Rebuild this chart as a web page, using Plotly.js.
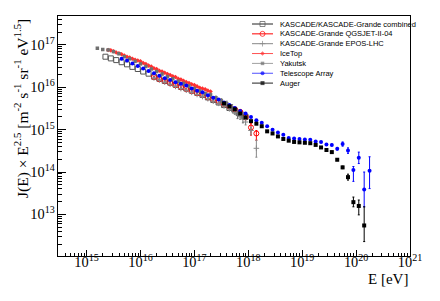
<!DOCTYPE html>
<html>
<head>
<meta charset="utf-8">
<script src="https://cdn.plot.ly/plotly-3.0.1.min.js"></script>
<style>html,body{margin:0;padding:0;background:#fff}#chart{width:440px;height:301px}</style>
</head>
<body>
<div id="chart"></div>
<script>
// ---- data (log10 E [eV], log10 J*E^2.5) ----
const kascadeLogE = [15.35,15.45,15.55,15.65,15.75,15.85,15.95,16.05,16.15,16.25,16.35,16.45,16.55,16.65,16.75,16.85,16.95,17.05,17.15,17.25,17.35,17.45,17.55,17.65,17.75,17.85,17.95];
const kascadeLogJ = [16.72,16.68,16.64,16.59,16.54,16.48,16.43,16.37,16.32,16.25,16.20,16.15,16.11,16.06,16.01,15.97,15.92,15.87,15.82,15.76,15.70,15.64,15.58,15.51,15.45,15.38,15.30];

const qgsLogE = [16.25,16.35,16.45,16.55,16.65,16.75,16.85,16.95,17.05,17.15,17.25,17.35,17.45,17.55,17.65,17.75,17.85,17.95,18.05,18.15];
const qgsLogJ = [16.24,16.19,16.15,16.10,16.05,16.00,15.96,15.91,15.86,15.82,15.76,15.71,15.66,15.60,15.54,15.48,15.42,15.30,15.05,14.91];
const qgsErrUp = [0.01,0.01,0.01,0.01,0.01,0.01,0.01,0.01,0.01,0.01,0.02,0.02,0.02,0.03,0.03,0.04,0.05,0.06,0.09,0.07];
const qgsErrDn = [0.01,0.01,0.01,0.01,0.01,0.01,0.01,0.01,0.01,0.01,0.02,0.02,0.02,0.03,0.03,0.04,0.05,0.07,0.18,0.16];

const eposLogE = [16.25,16.35,16.45,16.55,16.65,16.75,16.85,16.95,17.05,17.15,17.25,17.35,17.45,17.55,17.65,17.75,17.85,17.95,18.05,18.15];
const eposLogJ = [16.22,16.17,16.12,16.07,16.02,15.97,15.93,15.88,15.83,15.78,15.73,15.67,15.62,15.56,15.49,15.41,15.30,15.18,14.98,14.56];
const eposErrUp = [0.01,0.01,0.01,0.01,0.01,0.01,0.01,0.01,0.01,0.02,0.02,0.02,0.03,0.03,0.04,0.05,0.06,0.06,0.08,0.19];
const eposErrDn = [0.01,0.01,0.01,0.01,0.01,0.01,0.01,0.01,0.01,0.02,0.02,0.02,0.03,0.03,0.04,0.05,0.06,0.07,0.10,0.21];

const icetopLogE = [15.40,15.45,15.50,15.55,15.60,15.65,15.70,15.75,15.80,15.85,15.90,15.95,16.00,16.05,16.10,16.15,16.20,16.25,16.30,16.35,16.40,16.45,16.50,16.55,16.60,16.65,16.70,16.75,16.80,16.85,16.90,16.95,17.00,17.05,17.10,17.15,17.20,17.25,17.30];
const icetopLogJ = [16.88,16.87,16.85,16.82,16.80,16.78,16.75,16.72,16.70,16.67,16.65,16.63,16.61,16.57,16.55,16.51,16.49,16.45,16.43,16.39,16.37,16.34,16.31,16.29,16.26,16.24,16.20,16.18,16.15,16.12,16.10,16.07,16.05,16.02,15.99,15.97,15.95,15.92,15.90];

const yakutskLogE = [15.2,15.3,15.4,15.5,15.6,15.7,15.8,15.9,16.0,16.1,16.2,16.3,16.4,16.5,16.6,16.7,16.8,16.9,17.0,17.1,17.2,17.3,17.4,17.5,17.6,17.7,17.8,17.9];
const yakutskLogJ = [16.92,16.89,16.88,16.84,16.79,16.72,16.67,16.61,16.55,16.49,16.43,16.37,16.31,16.25,16.20,16.14,16.09,16.03,15.97,15.91,15.85,15.82,15.75,15.68,15.61,15.51,15.36,15.28];
const yakutskErr  = [0.01,0.01,0.01,0.01,0.01,0.01,0.01,0.01,0.01,0.01,0.01,0.01,0.01,0.01,0.01,0.01,0.02,0.02,0.02,0.03,0.03,0.04,0.04,0.05,0.06,0.08,0.10,0.12];

const taLogE = [15.65,15.75,15.85,15.95,16.05,16.15,16.25,16.35,16.45,16.55,16.65,16.75,16.85,16.95,17.05,17.15,17.25,17.35,17.45,17.55,17.65,17.75,17.85,17.95,18.05,18.15,18.25,18.35,18.45,18.55,18.65,18.75,18.85,18.95,19.05,19.15,19.25,19.35,19.45,19.55,19.65,19.75,19.85,19.95,20.05,20.15,20.25];
const taLogJ = [16.67,16.63,16.56,16.50,16.44,16.38,16.33,16.27,16.21,16.17,16.12,16.08,16.04,15.97,15.92,15.88,15.81,15.75,15.71,15.64,15.58,15.51,15.44,15.38,15.30,15.22,15.16,15.08,15.00,14.93,14.88,14.80,14.79,14.78,14.77,14.76,14.72,14.71,14.65,14.64,14.55,14.66,14.51,14.05,14.34,13.59,14.03];
const taErrUp = [0.01,0.01,0.01,0.01,0.01,0.01,0.01,0.01,0.01,0.01,0.01,0.01,0.01,0.01,0.01,0.01,0.01,0.01,0.01,0.01,0.01,0.01,0.01,0.01,0.01,0.01,0.01,0.01,0.01,0.01,0.01,0.01,0.01,0.01,0.01,0.01,0.01,0.01,0.02,0.02,0.03,0.05,0.06,0.08,0.13,0.41,0.33];
const taErrDn = [0.01,0.01,0.01,0.01,0.01,0.01,0.01,0.01,0.01,0.01,0.01,0.01,0.01,0.01,0.01,0.01,0.01,0.01,0.01,0.01,0.01,0.01,0.01,0.01,0.01,0.01,0.01,0.01,0.01,0.01,0.01,0.01,0.01,0.01,0.01,0.01,0.01,0.01,0.02,0.02,0.03,0.05,0.07,0.27,0.14,0.41,0.42];

const augerLogE = [17.55,17.65,17.75,17.85,17.95,18.05,18.15,18.25,18.35,18.45,18.55,18.65,18.75,18.85,18.95,19.05,19.15,19.25,19.35,19.45,19.55,19.65,19.75,19.85,19.95,20.05,20.15];
const augerLogJ = [15.62,15.55,15.48,15.38,15.29,15.20,15.14,15.08,14.96,14.91,14.84,14.78,14.74,14.71,14.70,14.69,14.68,14.64,14.58,14.52,14.47,14.29,14.11,13.88,13.29,13.20,12.74];
const augerErrUp = [0.01,0.01,0.01,0.01,0.01,0.01,0.01,0.01,0.01,0.01,0.01,0.01,0.01,0.01,0.01,0.01,0.01,0.01,0.01,0.01,0.02,0.02,0.03,0.07,0.12,0.14,0.44];
const augerErrDn = [0.01,0.01,0.01,0.01,0.01,0.01,0.01,0.01,0.01,0.01,0.01,0.01,0.01,0.01,0.01,0.01,0.01,0.01,0.01,0.01,0.02,0.02,0.03,0.07,0.11,0.21,0.38];

const legendLabels = ["KASCADE/KASCADE-Grande combined","KASCADE-Grande QGSJET-II-04","KASCADE-Grande EPOS-LHC","IceTop","Yakutsk","Telescope Array","Auger"];

// ---- helpers ----
const lin = a => a.map(v => Math.pow(10, v));
function errs(logJ, up, dn) {
  return {
    type: 'data', symmetric: false,
    array: logJ.map((v,i) => Math.pow(10, v + up[i]) - Math.pow(10, v)),
    arrayminus: logJ.map((v,i) => Math.pow(10, v) - Math.pow(10, v - dn[i])),
    thickness: 1, width: 1
  };
}

const styles = [
  {symbol:'square-open', size:5, color:'#555555', lw:1, lineColor:'#222222'},
  {symbol:'circle-open', size:5, color:'#ff0000', lw:1, lineColor:'#ff0000'},
  {symbol:'cross-thin-open', size:4, color:'#888888', lw:1, lineColor:'#888888'},
  {symbol:'diamond', size:3.5, color:'#ff3030', lw:0, lineColor:'#ff5050'},
  {symbol:'square', size:3.5, color:'#707070', lw:0, lineColor:'#a0a0a0'},
  {symbol:'circle', size:4, color:'#0000ff', lw:0, lineColor:'#5050ff'},
  {symbol:'square', size:4, color:'#000000', lw:0, lineColor:'#222222'}
];

function mk(i, xs, ys, ey) {
  const s = styles[i];
  const t = {
    type:'scatter', mode:'markers', x: lin(xs), y: lin(ys), showlegend:false, cliponaxis:true,
    marker:{symbol:s.symbol, size:s.size, color:s.color, line:{color:s.color, width:s.lw}}
  };
  if (ey) { ey.color = s.color; t.error_y = ey; }
  return t;
}

const traces = [
  mk(0, kascadeLogE, kascadeLogJ),
  mk(1, qgsLogE, qgsLogJ, errs(qgsLogJ, qgsErrUp, qgsErrDn)),
  mk(2, eposLogE, eposLogJ, errs(eposLogJ, eposErrUp, eposErrDn)),
  mk(3, icetopLogE, icetopLogJ),
  mk(4, yakutskLogE, yakutskLogJ, errs(yakutskLogJ, yakutskErr, yakutskErr)),
  mk(5, taLogE, taLogJ, errs(taLogJ, taErrUp, taErrDn)),
  mk(6, augerLogE, augerLogJ, errs(augerLogJ, augerErrUp, augerErrDn))
];

// ---- custom legend on a pixel-like overlay axis ----
const L = 58, R = 410, T = 16, B = 256;
const rowY0 = 24, rowDy = 9.85;
const annotations = [];
legendLabels.forEach((lab, i) => {
  const s = styles[i];
  const yy = rowY0 + i*rowDy;
  traces.push({
    type:'scatter', mode:'lines+markers', xaxis:'x2', yaxis:'y2', showlegend:false, hoverinfo:'skip',
    x:[252, 262.5, 273], y:[yy, yy, yy],
    line:{color:s.lineColor, width:1},
    marker:{symbol:s.symbol, size:[0, s.size, 0], color:s.color, line:{color:s.color, width:s.lw}}
  });
  annotations.push({
    xref:'paper', yref:'paper', x:(278-L)/(R-L), y:(B-yy)/(B-T), xanchor:'left', yanchor:'middle',
    text: lab, showarrow:false, font:{family:'Liberation Sans, Arial, sans-serif', size:7.5, color:'#000'}
  });
});

annotations.push({
  xref:'paper', yref:'paper', x:(410-L)/(R-L), y:(B-279)/(B-T), xanchor:'right', yanchor:'middle',
  text:'E [eV]', showarrow:false, font:{family:'Liberation Serif, Times New Roman, serif', size:15, color:'#000'}
});
annotations.push({
  xref:'paper', yref:'paper', x:(22-L)/(R-L), y:(B-109)/(B-T), xanchor:'center', yanchor:'middle', textangle:-90,
  text:'J(E) × E<sup>2.5</sup> [m<sup>-2</sup> s<sup>-1</sup> sr<sup>-1</sup> eV<sup>1.5</sup>]', showarrow:false,
  font:{family:'Liberation Serif, Times New Roman, serif', size:15.5, color:'#000'}
});

const tickFont = {family:'Liberation Serif, Times New Roman, serif', size:11.5, color:'#000'};
const layout = {
  width:440, height:301,
  margin:{l:L, r:440-R, t:T, b:301-B, pad:0},
  paper_bgcolor:'#fff', plot_bgcolor:'#fff',
  showlegend:false,
  xaxis:{
    type:'log', range:[14.47, 21.0001], dtick:1, exponentformat:'power', showgrid:false, zeroline:false,
    ticks:'inside', ticklen:6, tickwidth:1, tickcolor:'#000', showline:true, linecolor:'#000', linewidth:1, mirror:true,
    ticklabelstandoff:-7,
    tickfont:tickFont, minor:{ticks:'inside', ticklen:3, tickcolor:'#000', dtick:'D1', showgrid:false}
  },
  yaxis:{
    type:'log', range:[12.02, 17.68], dtick:1, exponentformat:'power', showgrid:false, zeroline:false,
    ticks:'inside', ticklen:8, tickwidth:1, tickcolor:'#000', showline:true, linecolor:'#000', linewidth:1, mirror:true,
    tickfont:tickFont, minor:{ticks:'inside', ticklen:4, tickcolor:'#000', dtick:'D1', showgrid:false}
  },
  xaxis2:{overlaying:'x', anchor:'y2', range:[L, R], visible:false, fixedrange:true},
  yaxis2:{overlaying:'y', anchor:'x2', range:[B, T], visible:false, fixedrange:true},
  annotations: annotations
};

Plotly.newPlot('chart', traces, layout, {staticPlot:true, displayModeBar:false});
</script>
</body>
</html>
